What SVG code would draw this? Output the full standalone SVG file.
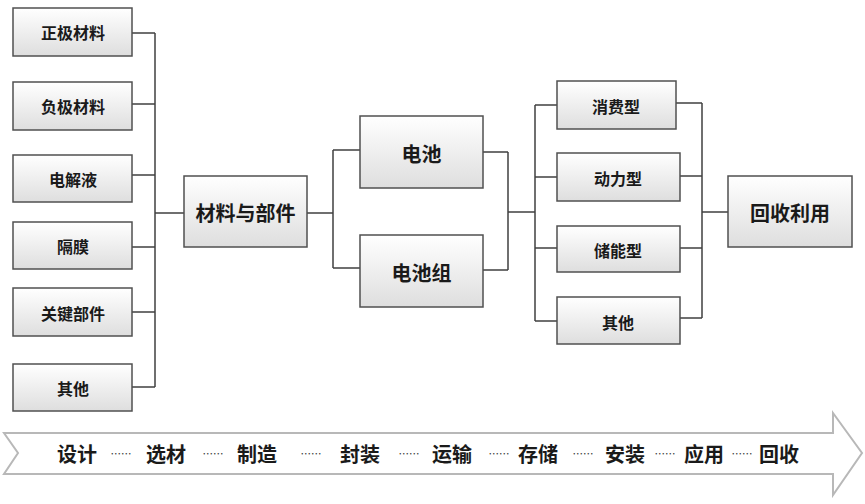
<svg xmlns="http://www.w3.org/2000/svg" width="865" height="504" viewBox="0 0 865 504">
<defs>
<linearGradient id="g" x1="0" y1="0" x2="0" y2="1">
<stop offset="0" stop-color="#ffffff"/>
<stop offset="1" stop-color="#dedede"/>
</linearGradient>
</defs>
<style>
.box{fill:url(#g);stroke:#505050;stroke-width:1.5}
.t{font-family:"Noto Sans CJK SC","Microsoft YaHei",sans-serif;font-weight:bold;fill:#1a1a1a;text-anchor:middle;dominant-baseline:central}
.s16{font-size:16px}
.s20{font-size:20px}
.c{fill:none;stroke:#404040;stroke-width:1.5}
.arrow{fill:#ffffff;stroke:#b8b8b8;stroke-width:2}
.d{font-family:"Noto Sans CJK SC",sans-serif;font-size:10.5px;fill:#333;text-anchor:middle;dominant-baseline:central}
</style>
<rect width="865" height="504" fill="#ffffff"/>
<g id="connectors">
<path class="c" d="M132,33H155M132,104H155M132,175H155M132,247H155M132,312H155M132,387H155M155,33V387M155,213H184"/>
<path class="c" d="M307,213H333M333,150V268M333,150H360M333,268H360"/>
<path class="c" d="M483,152H508M483,270H508M508,152V270M508,212H535"/>
<path class="c" d="M535,105V321M535,105H557M535,177H557M535,248H557M535,321H557"/>
<path class="c" d="M676,103H702M680,176H702M680,248H702M680,318H702M702,103V318M702,212H728"/>
</g>
<g id="n1"><rect class="box" x="13" y="8" width="119" height="48"/><text class="t s16" x="73" y="32">正极材料</text></g>
<g id="n2"><rect class="box" x="13" y="82" width="119" height="48"/><text class="t s16" x="73" y="106">负极材料</text></g>
<g id="n3"><rect class="box" x="13" y="155" width="119" height="47"/><text class="t s16" x="73" y="179">电解液</text></g>
<g id="n4"><rect class="box" x="13" y="222" width="119" height="47"/><text class="t s16" x="73" y="246">隔膜</text></g>
<g id="n5"><rect class="box" x="13" y="288" width="119" height="48"/><text class="t s16" x="73" y="313">关键部件</text></g>
<g id="n6"><rect class="box" x="13" y="364" width="119" height="47"/><text class="t s16" x="73" y="388">其他</text></g>
<g id="n7"><rect class="box" x="184" y="176" width="123" height="71"/><text class="t s20" x="245.5" y="212">材料与部件</text></g>
<g id="n8"><rect class="box" x="360" y="116" width="123" height="72"/><text class="t s20" x="421.5" y="153">电池</text></g>
<g id="n9"><rect class="box" x="360" y="235" width="123" height="72"/><text class="t s20" x="421.5" y="272">电池组</text></g>
<g id="n10"><rect class="box" x="557" y="81" width="119" height="48"/><text class="t s16" x="616" y="106">消费型</text></g>
<g id="n11"><rect class="box" x="557" y="153" width="123" height="48"/><text class="t s16" x="618" y="178">动力型</text></g>
<g id="n12"><rect class="box" x="557" y="226" width="123" height="46"/><text class="t s16" x="618" y="250">储能型</text></g>
<g id="n13"><rect class="box" x="557" y="297" width="123" height="47"/><text class="t s16" x="618" y="322">其他</text></g>
<g id="n14"><rect class="box" x="728" y="176" width="124" height="71"/><text class="t s20" x="790" y="212">回收利用</text></g>
<g id="timeline">
<path class="arrow" d="M4,433H833V413L862,453L833,495V474H4L18,453Z"/>
<text class="t s20" x="77" y="453">设计</text>
<text class="d" x="121" y="453">……</text>
<text class="t s20" x="166" y="453">选材</text>
<text class="d" x="213" y="453">……</text>
<text class="t s20" x="257" y="453">制造</text>
<text class="d" x="311" y="453">……</text>
<text class="t s20" x="360" y="453">封装</text>
<text class="d" x="409" y="453">……</text>
<text class="t s20" x="452" y="453">运输</text>
<text class="d" x="499" y="453">……</text>
<text class="t s20" x="538" y="453">存储</text>
<text class="d" x="583" y="453">……</text>
<text class="t s20" x="625" y="453">安装</text>
<text class="d" x="665" y="453">……</text>
<text class="t s20" x="704" y="453">应用</text>
<text class="d" x="742" y="453">……</text>
<text class="t s20" x="779" y="453">回收</text>
</g>
</svg>
